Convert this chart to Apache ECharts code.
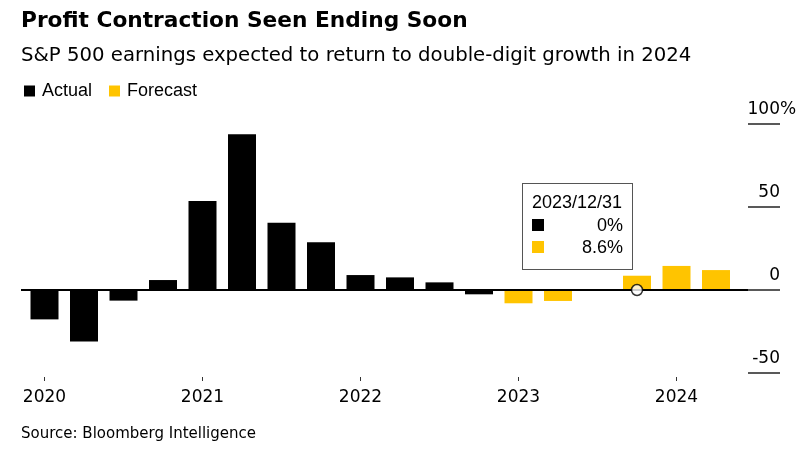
<!DOCTYPE html>
<html><head><meta charset="utf-8">
<script src="https://cdn.jsdelivr.net/npm/echarts@6/dist/echarts.min.js"></script>
<style>html,body{margin:0;padding:0;background:#fff}#c{width:811px;height:472px}</style>
</head><body><div id="c"></div>
<script>
const quarters = ['2020/03/31','2020/06/30','2020/09/30','2020/12/31','2021/03/31','2021/06/30','2021/09/30','2021/12/31','2022/03/31','2022/06/30','2022/09/30','2022/12/31','2023/03/31','2023/06/30','2023/09/30','2023/12/31','2024/03/31','2024/06/30'];
const actual   = [-17.7, -31, -6.4, 6, 53.6, 93.8, 40.5, 28.7, 9, 7.6, 4.6, -2.6, null, null, null, 0, null, null];
const forecast = [null, null, null, null, null, null, null, null, null, null, null, null, -8, -6.6, null, 8.6, 14.5, 12];
const yearTickIdx = [0, 4, 8, 12, 16];
const yearLabels = ['2020', '2021', '2022', '2023', '2024'];
const yTickValues = [-50, 0, 50, 100];
const highlightIdx = 15;

const FONT = "'Liberation Sans', Arial, sans-serif";
const WIDE = "'DejaVu Sans', sans-serif";
const toPairs = arr => arr.map((v, i) => [i, v]).filter(p => p[1] !== null);

const chart = echarts.init(document.getElementById('c'), null, {renderer: 'canvas'});
const fmtPct = v => (v === null ? '–' : v + '%');

chart.setOption({
  animation: false,
  title: [
    {text: 'Profit Contraction Seen Ending Soon', left: 21, top: 10, padding: 0,
     textStyle: {fontFamily: WIDE, fontSize: 21.7, fontWeight: 'bold', color: '#000'}},
    {text: 'S&P 500 earnings expected to return to double-digit growth in 2024', left: 21, top: 46, padding: 0,
     textStyle: {fontFamily: WIDE, fontSize: 19.7, fontWeight: 'normal', color: '#000'}},
    {text: 'Source: Bloomberg Intelligence', left: 21, top: 427, padding: 0,
     textStyle: {fontFamily: WIDE, fontSize: 15, fontWeight: 'normal', color: '#000'}}
  ],
  legend: {
    left: 19, top: 77, icon: 'rect', itemWidth: 11, itemHeight: 11, itemGap: 17,
    data: ['Actual', 'Forecast'],
    textStyle: {fontFamily: FONT, fontSize: 18, color: '#000', padding: [0, 0, 0, 2]}
  },
  tooltip: {
    trigger: 'item', alwaysShowContent: true, transitionDuration: 0, showDelay: 0, hideDelay: 0,
    backgroundColor: '#fff', borderColor: '#555', borderWidth: 1.5, borderRadius: 0, padding: [6, 9, 11, 9],
    extraCssText: 'box-shadow:none;',
    position: () => [522, 183],
    formatter: () => {
      const i = highlightIdx;
      const row = (c, v) => `<div style="display:flex;align-items:center;justify-content:space-between;height:22px"><span style="display:inline-block;width:12px;height:12px;background:${c}"></span><span>${fmtPct(v)}</span></div>`;
      return `<div style="font-family:${FONT.replace(/'/g, '&quot;')};font-size:18px;color:#000;line-height:22px;width:91px">` +
        `<div style="height:24px;line-height:24px">${quarters[i]}</div>` +
        row('#000', actual[i]) + row('#ffc400', forecast[i]) + `</div>`;
    }
  },
  grid: [
    {left: 21, width: 727, top: 124, height: 249},
    {left: 748, width: 32, top: 124, height: 249}
  ],
  xAxis: [
    {type: 'value', gridIndex: 0, min: -0.595, max: 17.81, position: 'bottom', offset: 4,
     axisLine: {show: false, onZero: false}, splitLine: {show: false},
     axisTick: {show: true, customValues: yearTickIdx, length: 4, lineStyle: {color: '#333', width: 1}},
     axisLabel: {show: true, customValues: yearTickIdx, margin: 12,
       formatter: v => yearLabels[yearTickIdx.indexOf(Math.round(v))] || '',
       fontFamily: WIDE, fontSize: 17, color: '#000'}},
    {type: 'value', gridIndex: 1, min: 0, max: 1, show: false}
  ],
  yAxis: [
    {type: 'value', gridIndex: 0, min: -50, max: 100, show: false, splitLine: {show: false}},
    {type: 'value', gridIndex: 1, min: -50, max: 100, interval: 50, position: 'right',
     axisLine: {show: false}, axisTick: {show: false},
     splitLine: {show: true, showMinLine: true, showMaxLine: true, lineStyle: {color: '#222', width: 1.5}},
     axisLabel: {inside: true, margin: 0, align: 'right', verticalAlign: 'bottom', padding: [0, 0, 6, 0],
       formatter: v => (yTickValues.includes(v) ? String(v) : ''),
       fontFamily: WIDE, fontSize: 17, color: '#000'}},
    {type: 'value', gridIndex: 1, min: -50, max: 100, interval: 50, position: 'right',
     axisLine: {show: false}, axisTick: {show: false}, splitLine: {show: false},
     axisLabel: {inside: false, margin: 0, align: 'left', verticalAlign: 'bottom', padding: [0, 0, 6, 0],
       formatter: v => (v === yTickValues[yTickValues.length - 1] ? '%' : ''),
       fontFamily: WIDE, fontSize: 17, color: '#000'}}
  ],
  series: [
    {name: 'Actual', type: 'bar', xAxisIndex: 0, yAxisIndex: 0, barWidth: 28, barGap: '-100%',
     data: toPairs(actual), itemStyle: {color: '#000'}, emphasis: {disabled: true}, tooltip: {show: false},
     markLine: {silent: true, symbol: ['none', 'none'], label: {show: false},
       lineStyle: {color: '#000', width: 2, type: 'solid'}, data: [{yAxis: 0}]}},
    {name: 'Forecast', type: 'bar', xAxisIndex: 0, yAxisIndex: 0, barWidth: 28, barGap: '-100%',
     data: toPairs(forecast), itemStyle: {color: '#ffc400'}, emphasis: {disabled: true}, tooltip: {show: false}},
    {name: 'marker', type: 'scatter', xAxisIndex: 0, yAxisIndex: 0, z: 10,
     data: [[highlightIdx, actual[highlightIdx]]], symbol: 'circle', symbolSize: 11,
     itemStyle: {color: '#fff', borderColor: '#000', borderWidth: 1.5}, emphasis: {disabled: true}}
  ]
});
chart.dispatchAction({type: 'showTip', seriesIndex: 2, dataIndex: 0});
</script></body></html>
